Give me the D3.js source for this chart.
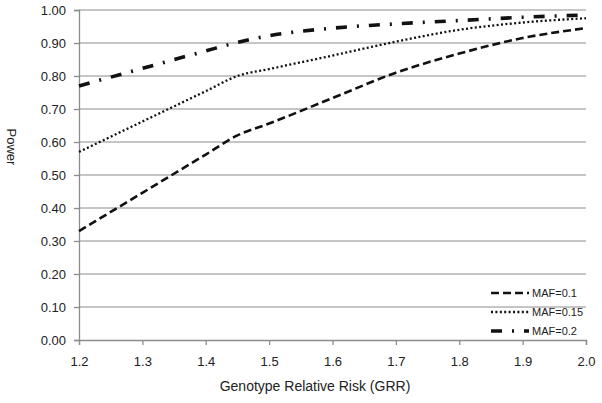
<!DOCTYPE html>
<html>
<head>
<meta charset="utf-8">
<script src="https://cdn.jsdelivr.net/npm/d3@7"></script>
<style>
  body { margin: 0; background: #fff; }
  text { font-family: "Liberation Sans", Arial, sans-serif; fill: #222; }
</style>
</head>
<body>
<div id="chart"></div>
<script>
// data
const grr = [1.2, 1.3, 1.4, 1.45, 1.5, 1.6, 1.7, 1.8, 1.9, 2.0];
const maf01 = [0.33, 0.446, 0.562, 0.62, 0.656, 0.733, 0.81, 0.868, 0.915, 0.945];
const maf015 = [0.57, 0.662, 0.754, 0.80, 0.821, 0.862, 0.904, 0.94, 0.962, 0.975];
const maf02 = [0.77, 0.823, 0.876, 0.902, 0.922, 0.945, 0.958, 0.968, 0.978, 0.985];
const seriesLabels = ["MAF=0.1", "MAF=0.15", "MAF=0.2"];
const xTicks = [1.2, 1.3, 1.4, 1.5, 1.6, 1.7, 1.8, 1.9, 2.0];
const yTicks = [0, 0.1, 0.2, 0.3, 0.4, 0.5, 0.6, 0.7, 0.8, 0.9, 1.0];

const W = 602, H = 403;
const margin = {top: 10, right: 16, bottom: 63, left: 79};
const width = W - margin.left - margin.right,
      height = H - margin.top - margin.bottom;

const svg = d3.select("#chart").append("svg")
    .attr("width", W).attr("height", H)
  .append("g")
    .attr("transform", "translate(" + margin.left + "," + margin.top + ")");

const x = d3.scaleLinear().domain([1.2, 2.0]).range([0, width]);
const y = d3.scaleLinear().domain([0, 1]).range([height, 0]);

// grid lines
svg.append("g")
  .selectAll("line")
  .data(yTicks.filter(d => d > 0))
  .enter().append("line")
    .attr("x1", 0).attr("x2", width)
    .attr("y1", d => y(d)).attr("y2", d => y(d))
    .attr("stroke", "#8c8c8c").attr("stroke-width", 1);

// axes
const yAxis = svg.append("g")
    .call(d3.axisLeft(y).tickValues(yTicks).tickFormat(d3.format(".2f")).tickSize(5).tickPadding(8));
const xAxis = svg.append("g")
    .attr("transform", "translate(0," + height + ")")
    .call(d3.axisBottom(x).tickValues(xTicks).tickFormat(d3.format(".1f")).tickSize(5).tickPadding(12));
[xAxis, yAxis].forEach(a => {
  a.select(".domain").attr("stroke", "#8c8c8c").attr("stroke-width", 1.3);
  a.selectAll(".tick line").attr("stroke", "#8c8c8c").attr("stroke-width", 1.3);
  a.selectAll(".tick text").style("font-size", "13px").attr("fill", "#222");
});

// series
const styles = [
  {dash: "8,4", w: 2.6},
  {dash: "2,2.4", w: 2.3},
  {dash: "11,10,2,10", w: 3.6}
];
const seriesData = [maf01, maf015, maf02];
const line = d3.line()
    .x((d, i) => x(grr[i]))
    .y(d => y(d))
    .curve(d3.curveMonotoneX);

seriesData.forEach((s, idx) => {
  svg.append("path")
    .datum(s)
    .attr("fill", "none")
    .attr("stroke", "#111")
    .attr("stroke-width", styles[idx].w)
    .attr("stroke-dasharray", styles[idx].dash)
    .attr("d", line);
});

// legend
const legend = svg.append("g").attr("transform", "translate(412,283)");
seriesLabels.forEach((lbl, idx) => {
  const g = legend.append("g").attr("transform", "translate(0," + (idx * 19) + ")");
  g.append("line")
    .attr("x1", 0).attr("x2", 38)
    .attr("stroke", "#111")
    .attr("stroke-width", styles[idx].w)
    .attr("stroke-dasharray", styles[idx].dash);
  g.append("text")
    .attr("x", 41).attr("y", 4)
    .style("font-size", "11px")
    .text(lbl);
});

// axis titles
svg.append("text")
  .attr("x", 236)
  .attr("y", height + 51)
  .attr("text-anchor", "middle")
  .style("font-size", "14px")
  .text("Genotype Relative Risk (GRR)");

svg.append("text")
  .attr("transform", "translate(" + (-72) + "," + 137 + ") rotate(90)")
  .attr("text-anchor", "middle")
  .style("font-size", "13px")
  .text("Power");
</script>
</body>
</html>
